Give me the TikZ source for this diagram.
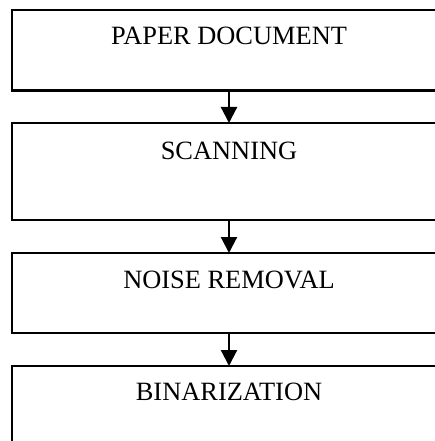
\documentclass[tikz,border=0pt]{standalone}
\usepackage{fontspec}
\setmainfont{Liberation Serif}
\usetikzlibrary{arrows.meta}
\begin{document}
\begin{tikzpicture}[x=1pt,y=1pt,
  stage/.style={draw=black, line width=2.2pt, fill=white, rectangle, anchor=north west,
    minimum width=434pt, inner sep=0pt, outer sep=0pt},
  lbl/.style={anchor=base, font=\fontsize{26.4}{30}\selectfont},
  flow/.style={draw=black, line width=2.2pt, -{Triangle[width=16pt,length=16pt]}}]
\useasboundingbox (0,0) rectangle (435,-441);
\clip (0,0) rectangle (435,-441);
\fill[white] (0,0) rectangle (435,-441);
\node[stage, minimum height=80.5pt] (b1) at (12,-10) {};
\node[stage, minimum height=97pt] (b2) at (12,-123) {};
\node[stage, minimum height=80pt] (b3) at (12,-253) {};
\node[stage, minimum height=110pt] (b4) at (12,-366) {};
\node[lbl] (t1) at ([yshift=-35pt]b1.north) {PAPER DOCUMENT};
\node[lbl] (t2) at ([yshift=-36pt]b2.north) {SCANNING};
\node[lbl] (t3) at ([yshift=-35pt]b3.north) {NOISE REMOVAL};
\node[lbl] (t4) at ([yshift=-34pt]b4.north) {BINARIZATION};
\draw[flow] (b1.south) -- (b2.north);
\draw[flow] (b2.south) -- (b3.north);
\draw[flow] (b3.south) -- (b4.north);
\end{tikzpicture}
\end{document}
